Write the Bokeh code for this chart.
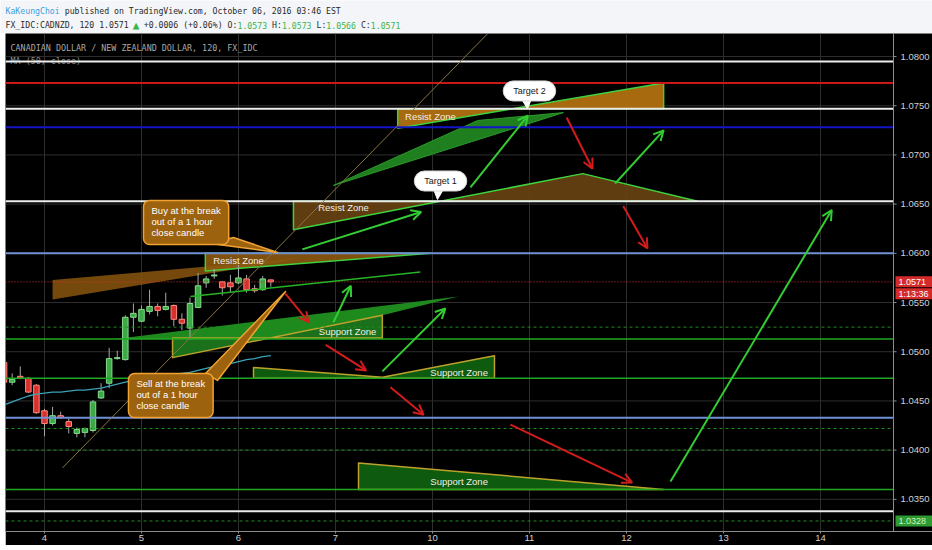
from bokeh.plotting import figure
from bokeh.models import (ColumnDataSource, Range1d, FixedTicker, Arrow, OpenHead, Label, Spacer)
from bokeh.layouts import column, row
from bokeh.core.properties import value
from bokeh.embed import file_html
from bokeh.resources import INLINE

# ---------------- price data: CAD/NZD, 120-minute bars ----------------
bars = list(range(-5, 29))
opens = [1.0489, 1.0469, 1.0475, 1.0473, 1.0466, 1.0440, 1.0427, 1.0435, 1.0429, 1.0417,
         1.0418, 1.0420, 1.0453, 1.0468, 1.0493, 1.0492, 1.0535, 1.0531, 1.0541, 1.0546,
         1.0543, 1.0547, 1.0533, 1.0524, 1.0545, 1.0570, 1.0577, 1.0571, 1.0570, 1.0570,
         1.0574, 1.0564, 1.0563, 1.0573]
highs = [1.0492, 1.0478, 1.0485, 1.0474, 1.0467, 1.0442, 1.0444, 1.0439, 1.0432, 1.0423,
         1.0423, 1.0451, 1.0468, 1.0504, 1.0501, 1.0537, 1.0549, 1.0547, 1.0563, 1.0549,
         1.0560, 1.0548, 1.0539, 1.0555, 1.0580, 1.0577, 1.0584, 1.0572, 1.0578, 1.0588,
         1.0578, 1.0568, 1.0577, 1.0573]
lows = [1.0468, 1.0466, 1.0472, 1.0458, 1.0437, 1.0414, 1.0425, 1.0432, 1.0417, 1.0413,
        1.0413, 1.0418, 1.0452, 1.0463, 1.0492, 1.0491, 1.0520, 1.0530, 1.0538, 1.0536,
        1.0542, 1.0526, 1.0522, 1.0512, 1.0545, 1.0565, 1.0574, 1.0557, 1.0560, 1.0569,
        1.0560, 1.0560, 1.0562, 1.0566]
closes = [1.0469, 1.0472, 1.0473, 1.0459, 1.0438, 1.0427, 1.0435, 1.0433, 1.0424, 1.0421,
          1.0422, 1.0449, 1.0460, 1.0493, 1.0494, 1.0535, 1.0539, 1.0543, 1.0546, 1.0542,
          1.0546, 1.0533, 1.0529, 1.0549, 1.0567, 1.0574, 1.0578, 1.0565, 1.0566, 1.0575,
          1.0563, 1.0562, 1.0574, 1.0571]
ma50 = [1.0446, 1.0449, 1.0452, 1.0455, 1.0457, 1.0458, 1.0459, 1.0459, 1.0460, 1.0461,
        1.0461, 1.0462, 1.0463, 1.0465, 1.0467, 1.0469, 1.0471, 1.0472, 1.0474, 1.0475,
        1.0476, 1.0477, 1.0478, 1.0479, 1.0481, 1.0483, 1.0485, 1.0486, 1.0488, 1.0490,
        1.0492, 1.0493, 1.0495, 1.0496]

day_bars = [0, 12, 24, 36, 48, 60, 72, 84, 96]
day_labels = ["4", "5", "6", "7", "10", "11", "12", "13", "14"]
price_ticks = [1.035, 1.040, 1.045, 1.050, 1.055, 1.060, 1.065, 1.070, 1.075, 1.080]

last_price = 1.0571
countdown = "1:13:36"
line_tag_price = 1.0328

# horizontal levels drawn across the chart
white_levels = [1.0795, 1.0747, 1.0653, 1.0338]
red_levels = [1.0773]
navy_levels = [1.0728]
steel_levels = [1.0600, 1.0433]
green_solid_levels = [1.0513, 1.0473, 1.0360]
green_dash_levels = [1.0525, 1.0422, 1.0400, 1.0328]

# zone drawings: (bar, price) outlines
resist_top_x = [43.7, 43.7, 76.6, 76.6]
resist_top_y = [1.0747, 1.0727, 1.0773, 1.0747]
wedge_top_x = [35.75, 53.6, 64.2]
wedge_top_y = [1.0669, 1.0735, 1.0743]
resist_mid_x = [30.8, 30.8, 66.6, 80.8]
resist_mid_y = [1.0653, 1.0624, 1.0681, 1.0653]
resist_low_x = [19.9, 19.9, 47.75]
resist_low_y = [1.0600, 1.0582, 1.0600]
wedge_left_x = [1.0, 1.0, 31.7]
wedge_left_y = [1.0573, 1.0553, 1.0595]
wedge_mid_x = [8.8, 51.2, 41.8, 41.8]
wedge_mid_y = [1.0513, 1.0556, 1.0537, 1.0513]
support_mid_x = [15.84, 15.84, 41.8, 41.8]
support_mid_y = [1.0514, 1.0494, 1.0537, 1.0514]
support_low_x = [25.86, 41.82, 55.67, 55.67, 25.86]
support_low_y = [1.0484, 1.0474, 1.0496, 1.0473, 1.0473]
support_bot_x = [38.85, 38.85, 76.6]
support_bot_y = [1.0387, 1.0360, 1.0360]

zone_text = ["Resist Zone", "Resist Zone", "Resist Zone", "Support Zone", "Support Zone", "Support Zone"]
zone_text_x = [47.75, 37.0, 24.0, 37.5, 51.3, 51.3]
zone_text_y = [1.0739, 1.0647, 1.0593, 1.0521, 1.0479, 1.0368]

# arrows: start bar, start price, end bar, end price
up_x0 = [31.9, 52.7, 70.6, 35.75, 41.8, 77.45]
up_y0 = [1.0604, 1.0667, 1.0671, 1.0530, 1.0480, 1.0368]
up_x1 = [46.6, 59.8, 76.6, 37.9, 49.6, 97.4]
up_y1 = [1.0642, 1.0740, 1.0725, 1.0567, 1.0544, 1.0644]
down_x0 = [29.8, 34.8, 42.8, 57.65, 64.6, 71.6]
down_y0 = [1.0559, 1.0507, 1.0464, 1.0426, 1.0738, 1.0648]
down_x1 = [32.7, 39.8, 46.9, 72.7, 67.8, 74.6]
down_y1 = [1.0530, 1.0481, 1.0436, 1.0367, 1.0686, 1.0605]

trend_green_x = [18.06, 46.5]
trend_green_y = [1.0556, 1.0581]
trend_tan_x = [2.23, 54.8]
trend_tan_y = [1.0382, 1.0823]

# callouts: box corner / centre and pointer outline
target_text = ["Target 2", "Target 1"]
target_x = [60.0, 49.0]
target_y = [1.0765, 1.06735]
t2_ptr_x, t2_ptr_y = [59.0, 60.25, 59.76], [1.0757, 1.0757, 1.0747]
t1_ptr_x, t1_ptr_y = [48.13, 49.36, 48.62], [1.0665, 1.0665, 1.06547]
buy_text = "Buy at the break\nout of a 1 hour\nclose candle"
buy_x, buy_y = 12.25, 1.06537
buy_ptr_x, buy_ptr_y = [20.54, 23.38, 28.83], [1.0610, 1.06161, 1.06009]
sell_text = "Sell at the break\nout of a 1 hour\nclose candle"
sell_x, sell_y = 10.39, 1.04779
sell_ptr_x, sell_ptr_y = [19.92, 21.4, 29.82], [1.04779, 1.04708, 1.05612]

# ---------------- geometry / styling ----------------
X_START, X_END = -4.825, 105.04          # plotting area, price scale begins at X_END
Y_START, Y_END = 1.03173, 1.08234
PX_PER_BAR = 888 / (X_END - X_START)
PX_PER_PRICE = 498 / (Y_END - Y_START)
X_FULL = X_START + 927 / PX_PER_BAR       # right edge of the price scale

SANS = "Liberation Sans"
NARROW = "Liberation Sans Narrow, Liberation Sans"
MONO = "DejaVu Sans Mono"
ZONE_EDGE = "#3ed23e"
SUPPORT_EDGE = "#bca22c"
ARROW_GREEN = "#33cc33"
ARROW_RED = "#d41c1c"
BOX_ORANGE = "#9c620e"
BOX_EDGE = "#f0a232"
SCALE = "#8c8c8c"
GRID = "#2e2e2e"

p = figure(width=927, height=512,
           x_range=Range1d(X_START, X_FULL), y_range=Range1d(Y_START, Y_END),
           y_axis_location=None, output_backend="svg", toolbar_location=None,
           background_fill_color="black", border_fill_color="black",
           outline_line_color=None,
           min_border_left=0, min_border_top=0, min_border_right=0, min_border_bottom=14)

p.xaxis.ticker = FixedTicker(ticks=day_bars)
p.xaxis.major_label_overrides = {b: t for b, t in zip(day_bars, day_labels)}
p.xaxis.axis_line_color = SCALE
p.xaxis.major_tick_line_color = SCALE
p.xaxis.minor_tick_line_color = None
p.xaxis.major_label_text_color = "#d0d0d0"
p.xaxis.major_label_text_font = NARROW
p.xaxis.major_label_text_font_size = "9.5px"
p.xaxis.major_tick_in = 0
p.xaxis.major_tick_out = 2
p.xaxis.major_label_standoff = 1
p.xgrid.grid_line_color = GRID
p.ygrid.grid_line_color = None

# horizontal grid stops at the price scale
p.segment(x0=[X_START] * len(price_ticks), x1=[X_END] * len(price_ticks),
          y0=price_ticks, y1=price_ticks, line_color=GRID, line_width=1)

# chart heading
head_x = X_START + 5 / PX_PER_BAR
p.text(x=[head_x], y=[Y_END - 14 / PX_PER_PRICE], text=["CANADIAN DOLLAR / NEW ZEALAND DOLLAR, 120, FX_IDC"],
       text_color="#a8a8a8", text_font=value(MONO), text_font_size="8.4px", text_baseline="middle")
p.text(x=[head_x], y=[Y_END - 27 / PX_PER_PRICE], text=["MA (50, close)"],
       text_color="#8a8a8a", text_font=value(MONO), text_font_size="8.4px", text_baseline="middle")

# zones
def zone(xs, ys, fill, alpha, edge, width=1.5):
    p.patch(xs, ys, fill_color=fill, fill_alpha=alpha, line_color=edge, line_width=width,
            line_join="round")

zone(wedge_left_x, wedge_left_y, "#8a560e", 0.85, None)
zone(resist_low_x, resist_low_y, "#8e5a10", 0.9, ZONE_EDGE)
zone(resist_mid_x, resist_mid_y, "#6a4412", 0.9, ZONE_EDGE)
zone(wedge_top_x, wedge_top_y, "#1f7f1f", 1.0, "#2a9a2a", 1)
zone(resist_top_x, resist_top_y, "#b0700f", 0.95, ZONE_EDGE)
zone(wedge_mid_x, wedge_mid_y, "#1e8a1e", 1.0, None)
zone(support_mid_x, support_mid_y, "#1b701b", 1.0, SUPPORT_EDGE)
zone(support_low_x, support_low_y, "#0e5a0e", 1.0, SUPPORT_EDGE)
zone(support_bot_x, support_bot_y, "#0e5a0e", 1.0, SUPPORT_EDGE)

# candles
def candle_source(rising):
    idx = [i for i in range(len(bars)) if (closes[i] >= opens[i]) == rising]
    return ColumnDataSource(dict(
        x=[bars[i] for i in idx],
        top=[max(opens[i], closes[i]) for i in idx],
        bottom=[min(opens[i], closes[i]) for i in idx],
        high=[highs[i] for i in idx],
        low=[lows[i] for i in idx]))

for rising, fill, edge in ((True, "#3da846", "#86dc8c"), (False, "#d8302c", "#ff8a82")):
    src = candle_source(rising)
    p.segment(x0="x", y0="low", x1="x", y1="high", source=src, line_color="#a8a8a8", line_width=1)
    p.vbar(x="x", width=0.68, top="top", bottom="bottom", source=src,
           fill_color=fill, line_color=edge, line_width=1)

p.line(bars, ma50, line_color="#3aa2b6", line_width=1.3)

# horizontal levels
def levels(prices, color, width, dash="solid"):
    p.segment(x0=[X_START] * len(prices), x1=[X_END] * len(prices),
              y0=prices, y1=prices, line_color=color, line_width=width, line_dash=dash)

levels(green_dash_levels, "#1c8f1c", 1, "3 3")
levels(green_solid_levels, "#20a820", 1.6)
levels(steel_levels, "#7090d6", 2)
levels(navy_levels, "#1414c8", 2)
levels(red_levels, "#c81818", 2)
levels(white_levels, "#ececec", 2)
levels([last_price], "#e03232", 1, "1 2")

# trend lines
p.line(trend_tan_x, trend_tan_y, line_color="#8a7444", line_width=1)
p.line(trend_green_x, trend_green_y, line_color="#24b424", line_width=1.5)

p.text(x=zone_text_x, y=zone_text_y, text=zone_text, text_color="#f2eee4",
       text_font=value(SANS), text_font_size="9.5px", text_align="center", text_baseline="middle")

# callout pointers
p.patch(buy_ptr_x, buy_ptr_y, fill_color=BOX_ORANGE, line_color=BOX_EDGE, line_width=1.5, line_join="round")
p.patch(sell_ptr_x, sell_ptr_y, fill_color=BOX_ORANGE, line_color=BOX_EDGE, line_width=1.5, line_join="round")
p.patch(t2_ptr_x, t2_ptr_y, fill_color="white", line_color="white")
p.patch(t1_ptr_x, t1_ptr_y, fill_color="white", line_color="white")

# ---- price scale on the right ----
p.segment(x0=[X_END], x1=[X_END], y0=[Y_START], y1=[Y_END], line_color=SCALE, line_width=1)
p.segment(x0=[X_END] * len(price_ticks), x1=[X_END + 3 / PX_PER_BAR] * len(price_ticks),
          y0=price_ticks, y1=price_ticks, line_color=SCALE, line_width=1)
p.text(x=[X_END + 7 / PX_PER_BAR] * len(price_ticks), y=price_ticks,
       text=[f"{t:.4f}" for t in price_ticks], text_color="#d0d0d0",
       text_font=value(NARROW), text_font_size="9.5px", text_baseline="middle")

# price tags on the scale
tag_left = X_END + 2 / PX_PER_BAR
tag_half = 5.5 / PX_PER_PRICE
tags = [(last_price, f"{last_price:.4f}", "#d42a2a", "white"),
        (last_price - 12 / PX_PER_PRICE, countdown, "#d42a2a", "white"),
        (line_tag_price, f"{line_tag_price:.4f}", "#2f9a2f", "#c8f5c8")]
for yc, txt, bg, fg in tags:
    p.quad(left=[tag_left], right=[X_FULL], bottom=[yc - tag_half], top=[yc + tag_half],
           fill_color=bg, line_color=None)
    p.text(x=[X_END + 5 / PX_PER_BAR], y=[yc], text=[txt], text_color=fg,
           text_font=value(NARROW), text_font_size="9px", text_baseline="middle")

# arrows
p.add_layout(Arrow(end=OpenHead(size=10, line_color=ARROW_GREEN, line_width=2),
                   x_start="x0", y_start="y0", x_end="x1", y_end="y1",
                   source=ColumnDataSource(dict(x0=up_x0, y0=up_y0, x1=up_x1, y1=up_y1)),
                   line_color=ARROW_GREEN, line_width=2))
p.add_layout(Arrow(end=OpenHead(size=10, line_color=ARROW_RED, line_width=2),
                   x_start="x0", y_start="y0", x_end="x1", y_end="y1",
                   source=ColumnDataSource(dict(x0=down_x0, y0=down_y0, x1=down_x1, y1=down_y1)),
                   line_color=ARROW_RED, line_width=2))

# callout boxes
for txt, x, y in ((buy_text, buy_x, buy_y), (sell_text, sell_x, sell_y)):
    p.add_layout(Label(x=x, y=y, text=txt, text_align="left", text_baseline="top",
                       text_color="white", text_font=SANS, text_font_size="9.5px",
                       text_line_height=1.0,
                       background_fill_color=BOX_ORANGE, background_fill_alpha=1.0,
                       border_line_color=BOX_EDGE, border_line_width=1.5, border_radius=6,
                       padding=dict(left=8, right=8, top=5, bottom=6)))
for txt, x, y in zip(target_text, target_x, target_y):
    p.add_layout(Label(x=x, y=y, text=txt, text_align="center", text_baseline="middle",
                       text_color="#151515", text_font=SANS, text_font_size="9px",
                       background_fill_color="white", background_fill_alpha=1.0,
                       border_line_color="#d8d8d8", border_line_width=1, border_radius=10,
                       padding=dict(left=10, right=10, top=5, bottom=5)))

# ---------------- publication header ----------------
h = figure(width=932, height=33, x_range=Range1d(0, 932), y_range=Range1d(33, 0),
           output_backend="svg", toolbar_location=None, x_axis_location=None, y_axis_location=None,
           background_fill_color="#f3f5f8", border_fill_color="#f3f5f8", outline_line_color=None,
           min_border=0)
h.grid.grid_line_color = None

HEAD_FS = 8.2
CHAR_W = 0.602 * HEAD_FS
DARK, BLUE, UPGREEN = "#2a2a2a", "#3f9fdc", "#3cb44a"
header_lines = [
    (10.5, [(0, "KaKeungChoi", BLUE, HEAD_FS),
            (12, "published on TradingView.com, October 06, 2016 03:46 EST", DARK, HEAD_FS)]),
    (24.5, [(0, "FX_IDC:CADNZD, 120 1.0571", DARK, HEAD_FS), (25.8, "\u25b2", UPGREEN, 11),
            (28, "+0.0006 (+0.06%) O:", DARK, HEAD_FS), (47, "1.0573", UPGREEN, HEAD_FS),
            (54, "H:", DARK, HEAD_FS), (56, "1.0573", UPGREEN, HEAD_FS),
            (63, "L:", DARK, HEAD_FS), (65, "1.0566", UPGREEN, HEAD_FS),
            (72, "C:", DARK, HEAD_FS), (74, "1.0571", UPGREEN, HEAD_FS)]),
]
for y, segs in header_lines:
    for col, txt, color, fs in segs:
        h.text(x=[5 + col * CHAR_W], y=[y], text=[txt], text_color=color,
               text_font=value(MONO), text_font_size=f"{fs}px", text_baseline="middle")

layout = column(h, row(Spacer(width=5, height=512), p))
open("out.html", "w").write(file_html(layout, INLINE))
